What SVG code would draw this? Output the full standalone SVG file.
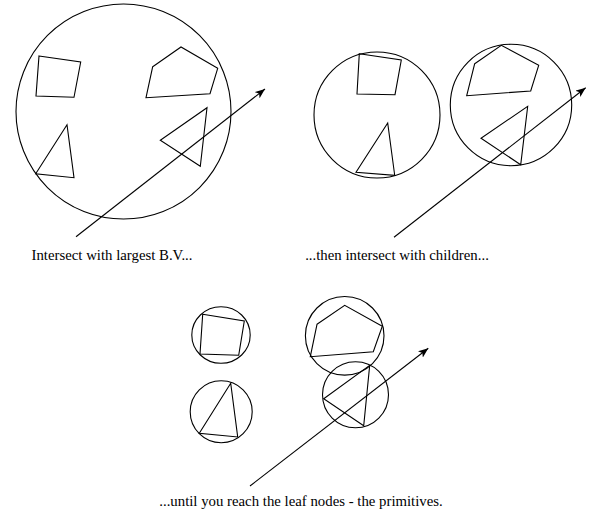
<svg xmlns="http://www.w3.org/2000/svg" width="592" height="514" viewBox="0 0 592 514">
<style>
.s{fill:none;stroke:#000;stroke-width:1.1}
.t{font-family:"Liberation Serif","Times New Roman",serif;font-size:14.8px;fill:#000;text-anchor:middle}
.ray{fill:none;stroke:#000;stroke-width:1.1;marker-end:url(#ah)}
</style>
<defs>
<marker id="ah" viewBox="0 0 10 8" refX="10" refY="4" markerWidth="10" markerHeight="8" markerUnits="userSpaceOnUse" orient="auto">
<path d="M0,0 L10,4 L0,8 L2.5,4 Z" fill="#000"/>
</marker>
</defs>
<rect width="592" height="514" fill="#fff"/>
<g id="panel1">
<circle class="s" cx="123.5" cy="111.5" r="107.5"/>
<polygon class="s" points="39,56 80.7,62 74,97.3 36,96"/>
<polygon class="s" points="152.7,66.7 181,47 217.7,68.3 210,93.7 146,97.7"/>
<polygon class="s" points="67,124.7 74,177.7 35.7,173.7"/>
<polygon class="s" points="207,107.7 200.3,166.3 160.3,140.3"/>
<text class="t" x="112" y="259.5">Intersect with largest B.V...</text>
</g>
<g id="panel2">
<circle class="s" cx="377" cy="115" r="63"/>
<circle class="s" cx="511" cy="105" r="60.7"/>
<polygon class="s" points="359.3,53.7 401.3,60 395,94.7 357,94"/>
<polygon class="s" points="387.7,123 394.7,175.3 356,172.3"/>
<polygon class="s" points="474.7,63.7 501.3,45.3 538.7,65.3 530.7,91 466.7,95.7"/>
<polygon class="s" points="527.7,106.3 520.7,164.7 481,138.3"/>
<text class="t" x="397" y="259.5">...then intersect with children...</text>
</g>
<g id="panel3">
<ellipse class="s" cx="221" cy="335" rx="29.2" ry="28.3"/>
<polygon class="s" points="202.7,314.3 244.3,321 238.7,355.3 200,354"/>
<circle class="s" cx="221.2" cy="411.7" r="31"/>
<polygon class="s" points="230.7,383.3 237.7,437 199.3,433.3"/>
<circle class="s" cx="344.7" cy="335.8" r="39.3"/>
<polygon class="s" points="317,324.3 344.7,305.3 382.3,326.3 373.3,351.7 310.3,356.7"/>
<circle class="s" cx="355.5" cy="394.7" r="33"/>
<polygon class="s" points="369.7,365.3 363.7,425.7 323.7,398.7"/>
<text class="t" x="301" y="506">...until you reach the leaf nodes - the primitives.</text>
</g>
<g id="connectors">
<line class="ray" x1="76" y1="236.7" x2="265" y2="89"/>
<line class="ray" x1="394" y1="237.3" x2="585.7" y2="87.7"/>
<line class="ray" x1="250" y1="486" x2="428.3" y2="348.3"/>
</g>
</svg>
